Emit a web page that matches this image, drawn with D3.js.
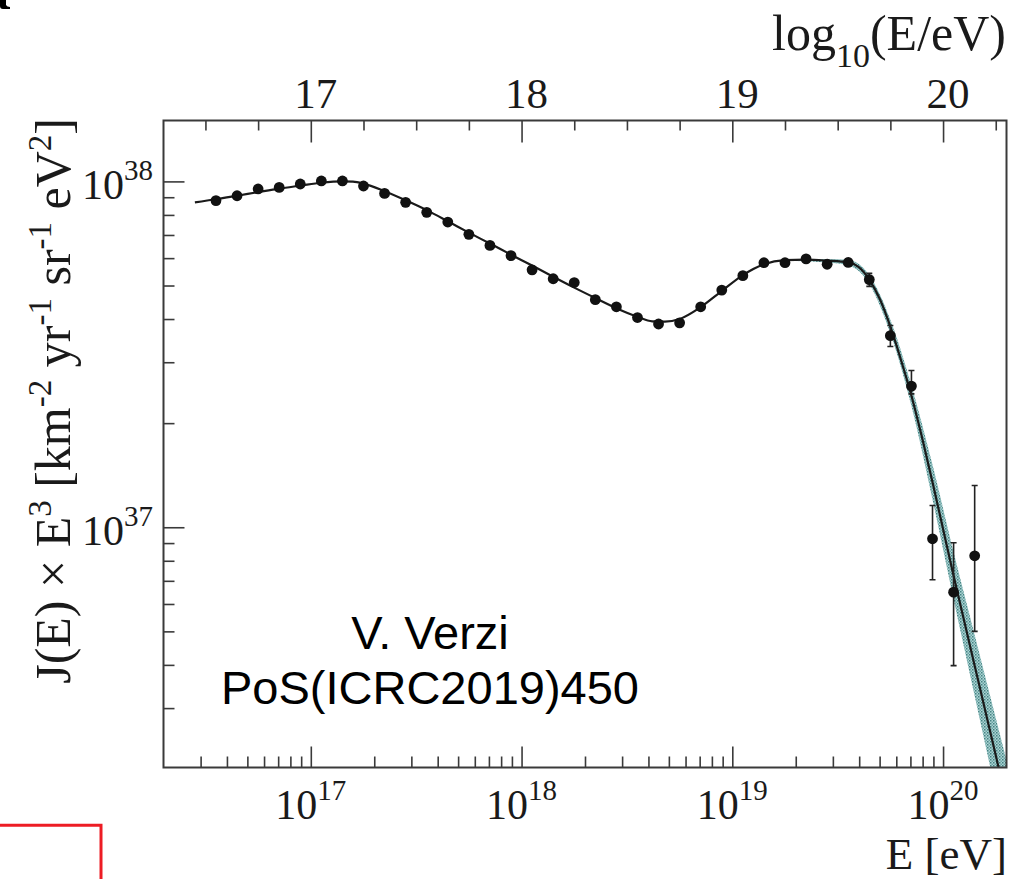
<!DOCTYPE html>
<html>
<head>
<meta charset="utf-8">
<script src="https://cdn.jsdelivr.net/npm/d3@7"></script>
<style>
  html, body { margin: 0; padding: 0; background: #fff; }
  svg { display: block; }
</style>
</head>
<body>
<svg id="chart" width="1015" height="879"></svg>
<script>
// ---- measured spectrum: log10(E/eV) bin centres and J(E)·E^3 [km^-2 yr^-1 sr^-1 eV^2]
const binLogE = [16.55, 16.65, 16.75, 16.85, 16.95, 17.05, 17.15, 17.25, 17.35, 17.45,
                 17.55, 17.65, 17.75, 17.85, 17.95, 18.05, 18.15, 18.25, 18.35, 18.45,
                 18.55, 18.65, 18.75, 18.85, 18.95, 19.05, 19.15, 19.25, 19.35, 19.45,
                 19.55, 19.65, 19.75, 19.85, 19.95, 20.05, 20.15];
const fluxE3 = [8.80e37, 9.09e37, 9.51e37, 9.61e37, 9.83e37, 1.003e38, 1.003e38, 9.70e37, 9.23e37, 8.70e37,
                8.14e37, 7.63e37, 7.03e37, 6.53e37, 6.10e37, 5.55e37, 5.23e37, 5.10e37, 4.55e37, 4.34e37,
                4.04e37, 3.87e37, 3.90e37, 4.34e37, 4.85e37, 5.34e37, 5.82e37, 5.82e37, 5.97e37, 5.76e37,
                5.83e37, 5.20e37, 3.58e37, 2.56e37, 9.26e36, 6.49e36, 8.27e36];
// error bar ends (null where the bar is hidden by the marker)
const errLow  = [null, null, null, null, null, null, null, null, null, null,
                 null, null, null, null, null, null, null, null, null, null,
                 null, null, null, null, null, null, null, null, null, null,
                 5.70e37, 4.97e37, 3.33e37, 2.43e37, 7.05e36, 3.98e36, 5.00e36];
const errHigh = [null, null, null, null, null, null, null, null, null, null,
                 null, null, null, null, null, null, null, null, null, null,
                 null, null, null, null, null, null, null, null, null, null,
                 5.97e37, 5.42e37, 3.83e37, 2.84e37, 1.156e37, 9.02e36, 1.32e37];

// ---- fitted spectrum
const fitLogE = [16.45, 16.55, 16.65, 16.75, 16.85, 16.95, 17.05, 17.15, 17.20, 17.25,
                 17.35, 17.45, 17.55, 17.65, 17.75, 17.85, 17.95, 18.05, 18.15, 18.25,
                 18.35, 18.45, 18.55, 18.62, 18.68, 18.75, 18.85, 18.95, 19.05, 19.15,
                 19.25, 19.35, 19.45, 19.55, 19.60, 19.65, 19.70, 19.75, 19.80, 19.85,
                 19.90, 19.95, 20.00, 20.05, 20.10, 20.15, 20.20, 20.25, 20.30];
const fitE3 = [8.70e37, 8.88e37, 9.09e37, 9.31e37, 9.53e37, 9.72e37, 9.91e37, 1.00e38, 9.98e37, 9.85e37,
               9.37e37, 8.82e37, 8.26e37, 7.67e37, 7.11e37, 6.61e37, 6.14e37, 5.71e37, 5.30e37, 4.93e37,
               4.60e37, 4.30e37, 4.06e37, 3.94e37, 3.93e37, 4.00e37, 4.33e37, 4.82e37, 5.36e37, 5.76e37,
               5.92e37, 5.94e37, 5.90e37, 5.83e37, 5.65e37, 5.20e37, 4.57e37, 3.80e37, 3.05e37, 2.40e37,
               1.82e37, 1.35e37, 9.89e36, 7.24e36, 5.37e36, 3.98e36, 2.95e36, 2.19e36, 1.62e36];

// ---- uncertainty band of the fit
const bandLogE = [19.30, 19.45, 19.55, 19.65, 19.75, 19.85, 19.95, 20.05, 20.15, 20.25, 20.30];
const bandLow  = [5.89e37, 5.83e37, 5.72e37, 5.05e37, 3.63e37, 2.24e37, 1.203e37, 6.19e36, 3.25e36, 1.71e36, 1.235e36];
const bandHigh = [5.97e37, 5.97e37, 5.94e37, 5.36e37, 3.98e37, 2.57e37, 1.515e37, 8.46e36, 4.88e36, 2.81e36, 2.13e36];

// ---- axes
const xMajorExp = [17, 18, 19, 20];
const yMajorExp = [37, 38];
const topMajor  = [17, 18, 19, 20];

// -------------------------------------------------------------------------
const svg = d3.select("#chart");
const W = 1015, H = 879;
const plot = { left: 163.5, right: 1006.5, top: 120.5, bottom: 767.5 };

const x = d3.scaleLog().domain([2e16, 2e20]).range([plot.left, plot.right]);
const y = d3.scaleLog().domain([2.02e36, 1.5e38]).range([plot.bottom, plot.top]);
const xTop = d3.scaleLinear().domain([Math.log10(2e16), Math.log10(2e20)]).range([plot.left, plot.right]);

const serif = "'Liberation Serif', 'Times New Roman', serif";
const sans = "'Liberation Sans', Arial, sans-serif";
const ink = "#1a1a1a";
const frameCol = "#3a3a3a";

svg.append("rect").attr("width", W).attr("height", H).attr("fill", "#fff");

// dotted fill for the band
const defs = svg.append("defs");
const pat = defs.append("pattern").attr("id", "bandFill")
  .attr("patternUnits", "userSpaceOnUse").attr("width", 3).attr("height", 3);
pat.append("rect").attr("width", 3).attr("height", 3).attr("fill", "#a4cfcf");
pat.append("rect").attr("width", 1.5).attr("height", 1.5).attr("fill", "#2e7474");
pat.append("rect").attr("x", 1.5).attr("y", 1.5).attr("width", 1.5).attr("height", 1.5).attr("fill", "#5a9999");

defs.append("clipPath").attr("id", "plotClip").append("rect")
  .attr("x", plot.left).attr("y", plot.top)
  .attr("width", plot.right - plot.left).attr("height", plot.bottom - plot.top);

// minor tick values
const xMinor = [];
for (let e = 16; e <= 20; e++) for (let m = 2; m <= 9; m++) {
  const v = m * Math.pow(10, e);
  if (v > 2e16 && v < 2e20) xMinor.push(v);
}
const yMinor = [];
for (let e = 36; e <= 37; e++) for (let m = 2; m <= 9; m++) {
  const v = m * Math.pow(10, e);
  if (v > 2.02e36 && v < 1.5e38) yMinor.push(v);
}
const topMinor = [];
for (let v = 16.5; v <= 20.26; v += 0.25) {
  if (Math.abs(v - Math.round(v)) > 1e-6) topMinor.push(+v.toFixed(2));
}

function styleAxis(g) {
  g.select(".domain").remove();
  g.selectAll(".tick line").attr("stroke", frameCol).attr("stroke-width", 1.6);
  g.selectAll(".tick text").remove();
}

// bottom axis
svg.append("g").attr("transform", `translate(0,${plot.bottom})`)
  .call(d3.axisBottom(x).tickValues(xMinor).tickSize(-11).tickFormat(""))
  .call(styleAxis);
svg.append("g").attr("transform", `translate(0,${plot.bottom})`)
  .call(d3.axisBottom(x).tickValues(xMajorExp.map(e => Math.pow(10, e))).tickSize(-21).tickFormat(""))
  .call(styleAxis);
// left axis
svg.append("g").attr("transform", `translate(${plot.left},0)`)
  .call(d3.axisLeft(y).tickValues(yMinor).tickSize(-11).tickFormat(""))
  .call(styleAxis);
svg.append("g").attr("transform", `translate(${plot.left},0)`)
  .call(d3.axisLeft(y).tickValues(yMajorExp.map(e => Math.pow(10, e))).tickSize(-21).tickFormat(""))
  .call(styleAxis);
// top axis in log10(E/eV)
svg.append("g").attr("transform", `translate(0,${plot.top})`)
  .call(d3.axisTop(xTop).tickValues(topMinor).tickSize(-10).tickFormat(""))
  .call(styleAxis);
svg.append("g").attr("transform", `translate(0,${plot.top})`)
  .call(d3.axisTop(xTop).tickValues(topMajor).tickSize(-22).tickFormat(""))
  .call(styleAxis);

// power-of-ten labels
function powLabel(sel, exp, anchor) {
  const t = sel.append("text").attr("font-family", serif).attr("fill", ink).attr("text-anchor", anchor);
  t.append("tspan").attr("font-size", 42).text("10");
  t.append("tspan").attr("font-size", 29).attr("dy", -19).text(exp);
  return t;
}
xMajorExp.forEach(e => {
  powLabel(svg, e, "middle").attr("x", x(Math.pow(10, e))).attr("y", 819);
});
yMajorExp.forEach(e => {
  powLabel(svg, e, "end").attr("x", 153).attr("y", y(Math.pow(10, e)) + 18);
});
topMajor.forEach(v => {
  svg.append("text").attr("x", xTop(v) + 5).attr("y", 108)
    .attr("font-family", serif).attr("font-size", 43).attr("fill", ink)
    .attr("text-anchor", "middle").text(v);
});

// axis titles
const topTitle = svg.append("text").attr("x", 1006).attr("y", 50)
  .attr("font-family", serif).attr("font-size", 50).attr("fill", ink).attr("text-anchor", "end");
topTitle.append("tspan").text("log");
topTitle.append("tspan").attr("font-size", 34).attr("dy", 17).text("10");
topTitle.append("tspan").attr("dy", -17).text("(E/eV)");

svg.append("text").attr("x", 1007).attr("y", 869)
  .attr("font-family", serif).attr("font-size", 45).attr("fill", ink)
  .attr("text-anchor", "end").text("E [eV]");

const yTitle = svg.append("text").attr("transform", "translate(70,118) rotate(-90)")
  .attr("font-family", serif).attr("font-size", 50).attr("fill", ink).attr("text-anchor", "end");
[["J(E) \u00d7 E", 0], ["3", 1], [" [km", 0], ["-2", 1], [" yr", 0], ["-1", 1],
 [" sr", 0], ["-1", 1], [" eV", 0], ["2", 1], ["]", 0]].forEach(([s, sup], i, arr) => {
  const ts = yTitle.append("tspan").text(s);
  if (sup) ts.attr("font-size", 33).attr("dy", -19);
  else if (i > 0 && arr[i - 1][1]) ts.attr("dy", 19);
});

// plot contents
const gPlot = svg.append("g").attr("clip-path", "url(#plotClip)");

const bandData = bandLogE.map((l, i) => ({ e: Math.pow(10, l), lo: bandLow[i], hi: bandHigh[i] }));
gPlot.append("path").datum(bandData)
  .attr("d", d3.area().x(d => x(d.e)).y0(d => y(d.lo)).y1(d => y(d.hi)).curve(d3.curveMonotoneX))
  .attr("fill", "url(#bandFill)").attr("opacity", 0.9);

const fitData = fitLogE.map((l, i) => ({ e: Math.pow(10, l), v: fitE3[i] }));
gPlot.append("path").datum(fitData)
  .attr("d", d3.line().x(d => x(d.e)).y(d => y(d.v)).curve(d3.curveMonotoneX))
  .attr("fill", "none").attr("stroke", ink).attr("stroke-width", 2.2);

const pts = binLogE.map((l, i) => ({ e: Math.pow(10, l), v: fluxE3[i], lo: errLow[i], hi: errHigh[i] }));
const eb = gPlot.append("g").attr("stroke", "#222").attr("stroke-width", 1.6);
pts.filter(d => d.lo !== null).forEach(d => {
  const cx = x(d.e);
  eb.append("line").attr("x1", cx).attr("x2", cx).attr("y1", y(d.hi)).attr("y2", y(d.lo));
  eb.append("line").attr("x1", cx - 3).attr("x2", cx + 3).attr("y1", y(d.hi)).attr("y2", y(d.hi));
  eb.append("line").attr("x1", cx - 3).attr("x2", cx + 3).attr("y1", y(d.lo)).attr("y2", y(d.lo));
});
gPlot.append("g").selectAll("circle").data(pts).join("circle")
  .attr("cx", d => x(d.e)).attr("cy", d => y(d.v)).attr("r", 5.4).attr("fill", "#111");

// frame
svg.append("rect").attr("x", plot.left).attr("y", plot.top)
  .attr("width", plot.right - plot.left).attr("height", plot.bottom - plot.top)
  .attr("fill", "none").attr("stroke", frameCol).attr("stroke-width", 2);

// annotation
svg.append("text").attr("x", 430).attr("y", 649)
  .attr("font-family", sans).attr("font-size", 47).attr("fill", "#000")
  .attr("text-anchor", "middle").text("V. Verzi");
svg.append("text").attr("x", 430).attr("y", 704)
  .attr("font-family", sans).attr("font-size", 47).attr("fill", "#000")
  .attr("text-anchor", "middle").text("PoS(ICRC2019)450");

// page decorations at the edges
svg.append("path").attr("d", "M0,0 H6 V5 Q7,7 10,7 V9 H3 Q0,9 0,6 Z").attr("fill", "#000");
svg.append("path").attr("d", "M0,825.3 H101 V879")
  .attr("fill", "none").attr("stroke", "#ed1c24").attr("stroke-width", 3);
</script>
</body>
</html>
